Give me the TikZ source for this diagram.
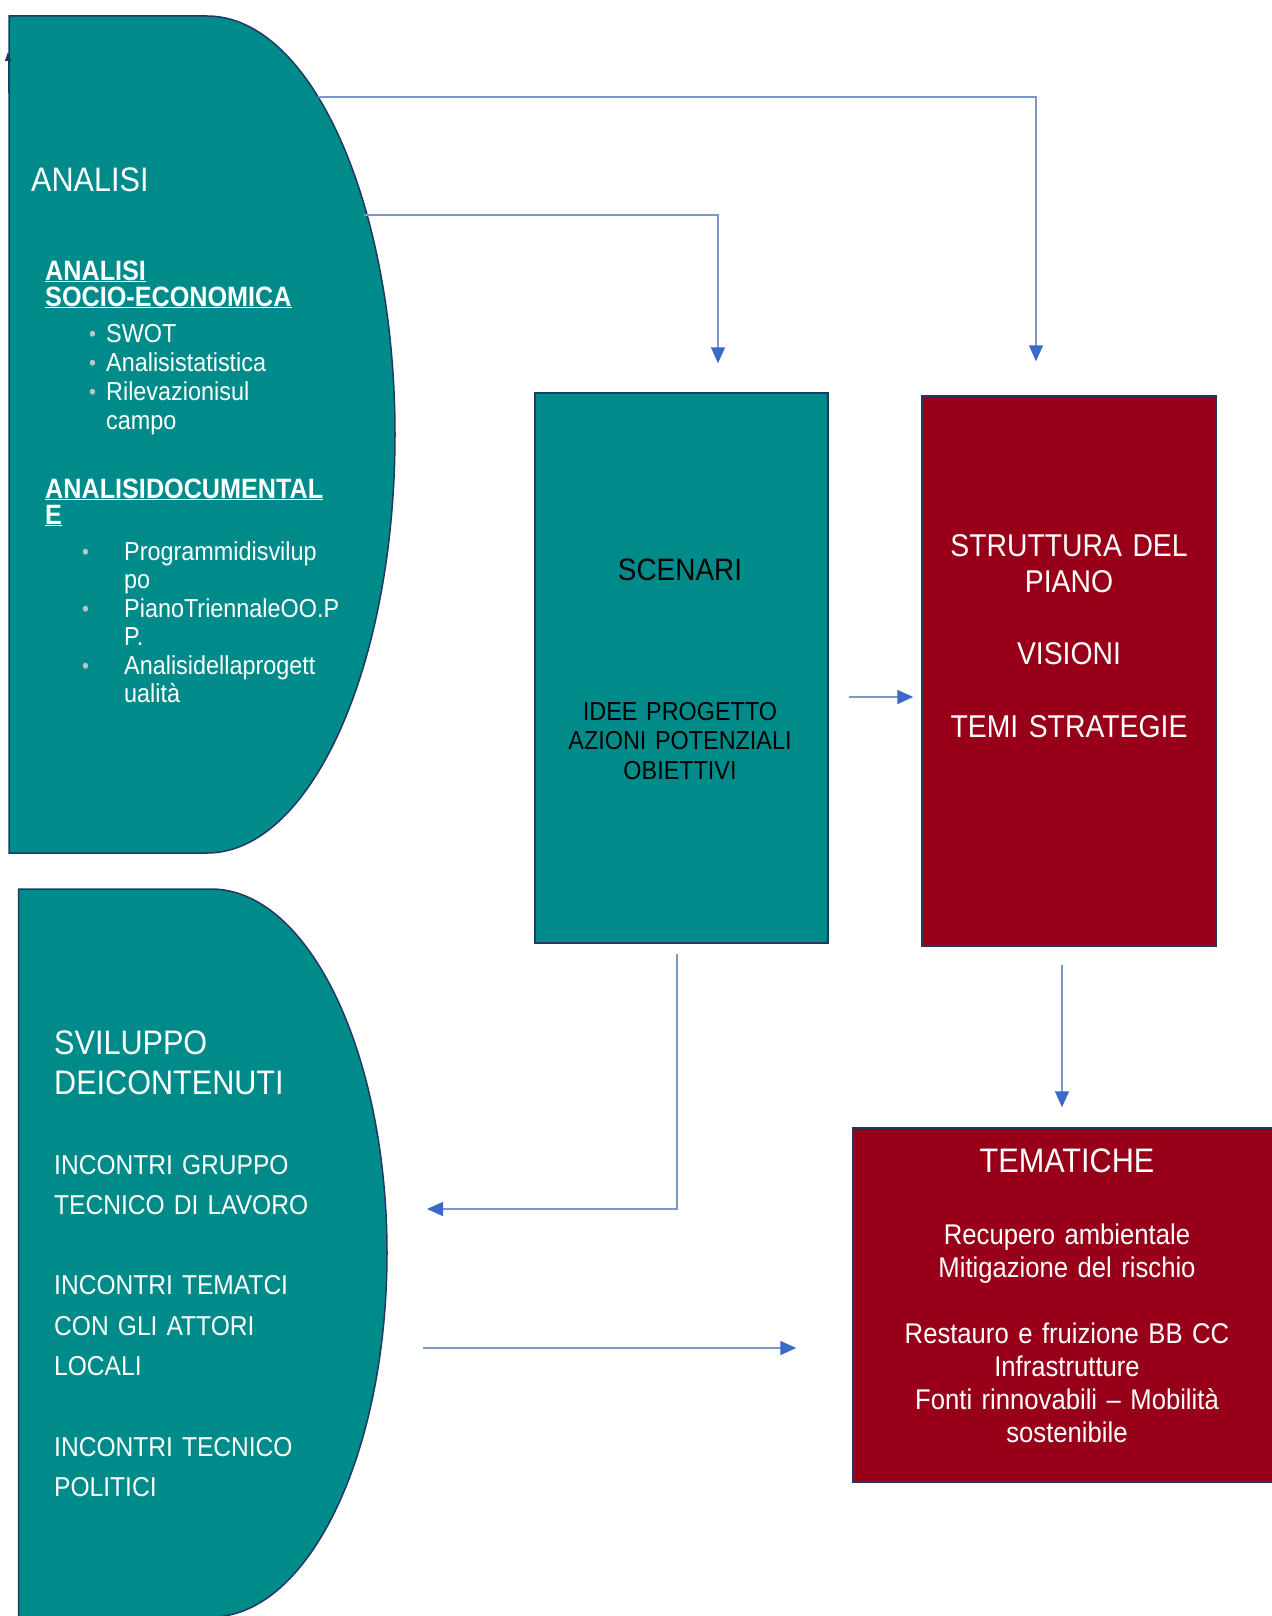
\documentclass[tikz,border=0pt]{standalone}
\usepackage{fontspec}
\setmainfont{Liberation Sans}[FakeStretch=0.9]
\usepackage{xcolor}
\usepackage{tikz}
\usetikzlibrary{arrows.meta, positioning}

\definecolor{tealfill}{RGB}{0,139,139}
\definecolor{planred}{RGB}{152,0,26}
\definecolor{edgeblue}{RGB}{32,56,100}
\definecolor{linkblue}{RGB}{125,152,196}
\definecolor{headblue}{RGB}{60,105,200}
\definecolor{dotgrey}{RGB}{190,195,195}
\newcommand{\greydot}{\raisebox{1pt}{\color{dotgrey}\fontsize{22}{22}\selectfont\textbullet}}

\begin{document}
\begin{tikzpicture}[x=1pt, y=-1pt,
    panel/.style={draw=edgeblue, line width=1.5pt, fill=tealfill},
    tealbox/.style={panel, minimum width=293pt, minimum height=550pt, inner sep=0pt},
    redbox/.style={draw=edgeblue, line width=1.5pt, fill=planred, inner sep=0pt},
    words/.style={inner sep=0pt, text=white},
    conn/.style={draw=linkblue, line width=1.6pt, -{Triangle[length=16pt, width=14pt, color=headblue]}}]
    \useasboundingbox (0,0) rectangle (1271,1616);
    \fill[white] (0,0) rectangle (1271,1616);
    % Left panels
    \draw[panel] (9,16) -- (207,16) arc[start angle=90, end angle=-90, x radius=188pt, y radius=418.5pt] -- (9,853) -- cycle;
    \draw[panel] (18.5,889) -- (211,889) arc[start angle=90, end angle=-90, x radius=176pt, y radius=364pt] -- (18.5,1617) -- cycle;
    % Boxes
    \node[tealbox] (scen) at (681.5,668) {};
    \node[redbox, minimum width=294pt, minimum height=550pt] (strut) at (1069,671) {};
    \node[redbox, minimum width=428pt, minimum height=354pt] (tema) at (1067,1305) {};
    % Analisi
    \node[words, anchor=base west, font=\fontsize{34}{40}\selectfont] (ana-title) at (31,192) {ANALISI};
    \node[words, anchor=base west, text width=320pt, font=\bfseries\fontsize{28}{26}\selectfont] (ana-socio) at (45,280)
        {\underline{ANALISI}\\\underline{SOCIO-ECONOMICA}};
    \node[words, anchor=base west, font=\fontsize{26}{29}\selectfont] (ana-list) at (89,342)
        {\begin{tabular}[t]{@{}p{17pt}@{}l@{}}\greydot & SWOT\\ \greydot & Analisistatistica\\ \greydot & Rilevazionisul\\ & campo\end{tabular}};
    \node[words, anchor=base west, text width=320pt, font=\bfseries\fontsize{28}{26}\selectfont] (ana-doc) at (45,498)
        {\underline{ANALISIDOCUMENTAL}\\\underline{E}};
    \node[words, anchor=base west, font=\fontsize{26}{28.5}\selectfont] (ana-docs) at (82,560)
        {\begin{tabular}[t]{@{}p{42pt}@{}l@{}}\greydot & Programmidisvilup\\ & po\\ \greydot & PianoTriennaleOO.P\\ & P.\\ \greydot & Analisidellaprogett\\ & ualità\end{tabular}};
    % Sviluppo
    \node[words, anchor=base west, text width=320pt, font=\fontsize{34}{40.5}\selectfont] (dev-title) at (54,1054)
        {SVILUPPO\\DEICONTENUTI};
    \node[words, anchor=base west, text width=320pt, font=\fontsize{27.3}{40.3}\selectfont] (dev-list) at (54,1174)
        {INCONTRI GRUPPO\\TECNICO DI LAVORO\\[40.3pt]INCONTRI TEMATCI\\CON GLI ATTORI\\LOCALI\\[40.3pt]INCONTRI TECNICO\\POLITICI};
    % Box texts
    \node[inner sep=0pt, anchor=base, font=\fontsize{31}{36}\selectfont] (scen-title) at (680,580) {SCENARI};
    \node[inner sep=0pt, anchor=base, text width=290pt, align=center, font=\fontsize{26}{29.5}\selectfont] (scen-list) at (680,720)
        {IDEE PROGETTO\\AZIONI POTENZIALI\\OBIETTIVI};
    \node[words, anchor=base, text width=290pt, align=center, font=\fontsize{31.5}{36.3}\selectfont] (strut-list) at (1069,556)
        {STRUTTURA DEL\\PIANO\\[36.3pt]VISIONI\\[36.3pt]TEMI STRATEGIE};
    \node[words, anchor=base, font=\fontsize{34}{40}\selectfont] (tema-title) at (1067,1172) {TEMATICHE};
    \node[words, anchor=base, text width=420pt, align=center, font=\fontsize{28.5}{33}\selectfont] (tema-list) at (1067,1244)
        {Recupero ambientale\\Mitigazione del rischio\\[33pt]Restauro e fruizione BB CC\\Infrastrutture\\Fonti rinnovabili – Mobilità\\sostenibile};
    % Connector ends
    \coordinate (ana-a) at (318,97);
    \coordinate (ana-b) at (364,215);
    \coordinate (strut-in) at ([xshift=-33pt,yshift=34pt]strut.north);
    \coordinate (scen-in) at ([xshift=36.5pt,yshift=29pt]scen.north);
    \coordinate (scen-out) at ([xshift=20pt,yshift=-29pt]scen.east);
    \coordinate (strut-left) at ([xshift=-8pt,yshift=-26pt]strut.west);
    \coordinate (strut-out) at ([xshift=-7pt,yshift=-18pt]strut.south);
    \coordinate (tema-in) at ([xshift=-5pt,yshift=20pt]tema.north);
    \coordinate (scen-down) at ([xshift=-4.5pt,yshift=-10pt]scen.south);
    \coordinate (dev-in) at (427,1209);
    \coordinate (dev-out) at (423,1348);
    \coordinate (tema-left) at ([xshift=-56pt,yshift=-43pt]tema.west);
    \coordinate (stub-a) at (8,93);
    \coordinate (stub-b) at (8,52);
    % Connectors
    \draw[conn] (ana-a) -| (strut-in);
    \draw[conn] (ana-b) -| (scen-in);
    \draw[conn] (scen-out) -- (strut-left);
    \draw[conn] (strut-out) -- (strut-out |- tema-in);
    \draw[conn] (scen-down) |- (dev-in);
    \draw[conn] (dev-out) -- (tema-left);
    \draw[edgeblue, line width=1pt, -{Triangle[length=9pt, width=6pt]}] (stub-a) -- (stub-b);
\end{tikzpicture}
\end{document}
